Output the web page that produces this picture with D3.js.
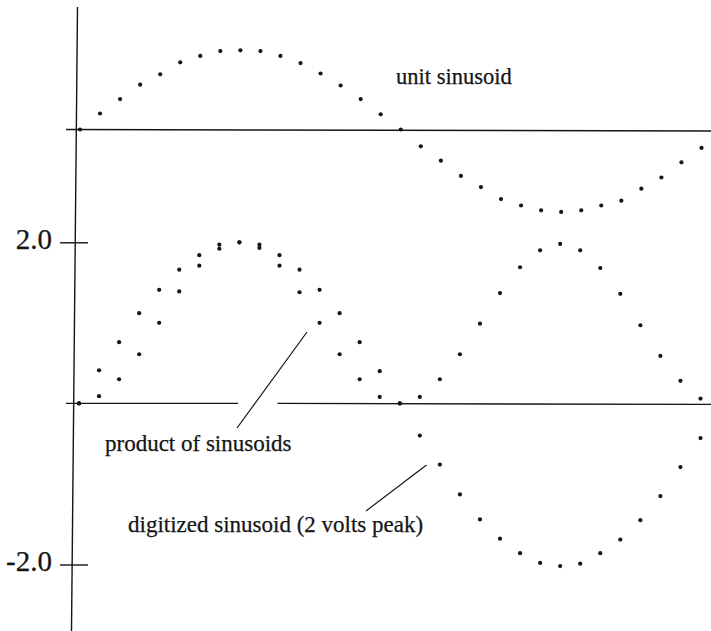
<!DOCTYPE html>
<html>
<head>
<meta charset="utf-8">
<script src="https://cdn.jsdelivr.net/npm/d3@7"></script>
<style>
  html, body { margin: 0; padding: 0; background: #fff; }
  svg { display: block; }
  text { font-family: "Liberation Serif", "Times New Roman", serif; fill: #151515; stroke: #151515; stroke-width: 0.25px; }
</style>
</head>
<body>
<script>
// ---- data ----
const sampleIndex = [0,1,2,3,4,5,6,7,8,9,10,11,12,13,14,15,16,17,18,19,20,21,22,23,24,25,26,27,28,29,30,31];
const unitSinusoid = [0, 0.20, 0.38, 0.56, 0.69, 0.84, 0.92, 0.98, 0.99, 0.98, 0.92, 0.83, 0.70, 0.55, 0.38, 0.19,
                      0, -0.21, -0.39, -0.58, -0.72, -0.87, -0.95, -1.01, -1.03, -1.01, -0.95, -0.89, -0.74, -0.60, -0.41, -0.23];
const digitizedSinusoid = [0, 0.41, 0.76, 1.12, 1.41, 1.66, 1.84, 1.97, 2.00, 1.97, 1.84, 1.66, 1.41, 1.12, 0.76, 0.40,
                           0, -0.40, -0.76, -1.13, -1.44, -1.68, -1.86, -1.98, -2.02, -1.99, -1.86, -1.69, -1.45, -1.15, -0.79, -0.43];
const productOfSinusoids = [0, 0.09, 0.30, 0.61, 1.00, 1.39, 1.71, 1.92, 2.00, 1.93, 1.71, 1.38, 1.00, 0.61, 0.30, 0.08,
                            0, 0.08, 0.30, 0.61, 0.99, 1.37, 1.69, 1.90, 1.98, 1.90, 1.68, 1.36, 0.97, 0.59, 0.28, 0.06];
const yTickValues = [2.0, -2.0];
const yTickLabels = ["2.0", "-2.0"];
const labelUnit = "unit sinusoid";
const labelProduct = "product of sinusoids";
const labelDigitized = "digitized sinusoid (2 volts peak)";

// ---- layout ----
const W = 711, H = 631;
const svg = d3.select("body").append("svg").attr("width", W).attr("height", H);

const x = d3.scaleLinear().domain([0, 31]).range([80, 701.5]);
const y = d3.scaleLinear().domain([-2, 2]).range([564.5, 242.3]);
const yUnit = d3.scaleLinear().domain([-1, 1]).range([209.5, 49.5]);

const ink = "#151515";

// vertical axis line (slightly tilted like the scan)
svg.append("line")
  .attr("x1", 77.5).attr("y1", 7).attr("x2", 71.5).attr("y2", H)
  .attr("stroke", ink).attr("stroke-width", 1.4);

// upper baseline (unit sinusoid zero)
svg.append("line")
  .attr("x1", 66).attr("x2", W).attr("y1", yUnit(0)).attr("y2", yUnit(0) + 1.5)
  .attr("stroke", ink).attr("stroke-width", 1.4);

// lower zero line, with a gap where the pointer crosses
svg.append("line")
  .attr("x1", 66).attr("x2", 238).attr("y1", y(0)).attr("y2", y(0))
  .attr("stroke", ink).attr("stroke-width", 1.4);
svg.append("line")
  .attr("x1", 277.5).attr("x2", W).attr("y1", y(0)).attr("y2", y(0) + 1)
  .attr("stroke", ink).attr("stroke-width", 1.4);

// y axis ticks via d3 axis
const axisG = svg.append("g").attr("transform", "translate(74,0)")
  .call(d3.axisLeft(y).tickValues(yTickValues).tickSize(14)
        .tickFormat((d, i) => yTickLabels[i]));
axisG.select(".domain").remove();
axisG.selectAll(".tick line").attr("x1", 14).attr("stroke", ink).attr("stroke-width", 1.4);
axisG.selectAll(".tick text")
  .attr("x", -22)
  .attr("dy", "0.2em")
  .style("font-family", '"Liberation Serif", "Times New Roman", serif')
  .style("font-size", "29px")
  .attr("fill", ink);
axisG.attr("font-size", null).attr("font-family", null);

// dots
const r = 2.1;
svg.append("g").selectAll("circle").data(sampleIndex).join("circle")
  .attr("cx", i => x(i)).attr("cy", i => yUnit(unitSinusoid[i])).attr("r", r).attr("fill", ink);
svg.append("g").selectAll("circle").data(sampleIndex).join("circle")
  .attr("cx", i => x(i) - 1).attr("cy", i => y(digitizedSinusoid[i])).attr("r", r).attr("fill", ink);
svg.append("g").selectAll("circle").data(sampleIndex).join("circle")
  .attr("cx", i => x(i) - 1).attr("cy", i => y(productOfSinusoids[i])).attr("r", r).attr("fill", ink);

// pointer lines
svg.append("line").attr("x1", 307).attr("y1", 332).attr("x2", 237).attr("y2", 428)
  .attr("stroke", ink).attr("stroke-width", 1.2);
svg.append("line").attr("x1", 426.5).attr("y1", 465).attr("x2", 366).attr("y2", 511)
  .attr("stroke", ink).attr("stroke-width", 1.2);

// labels
svg.append("text").attr("x", 396).attr("y", 84).style("font-size", "22.5px").text(labelUnit);
svg.append("text").attr("x", 105).attr("y", 451).style("font-size", "23px").text(labelProduct);
svg.append("text").attr("x", 128).attr("y", 531.5).style("font-size", "23px").text(labelDigitized);
</script>
</body>
</html>
